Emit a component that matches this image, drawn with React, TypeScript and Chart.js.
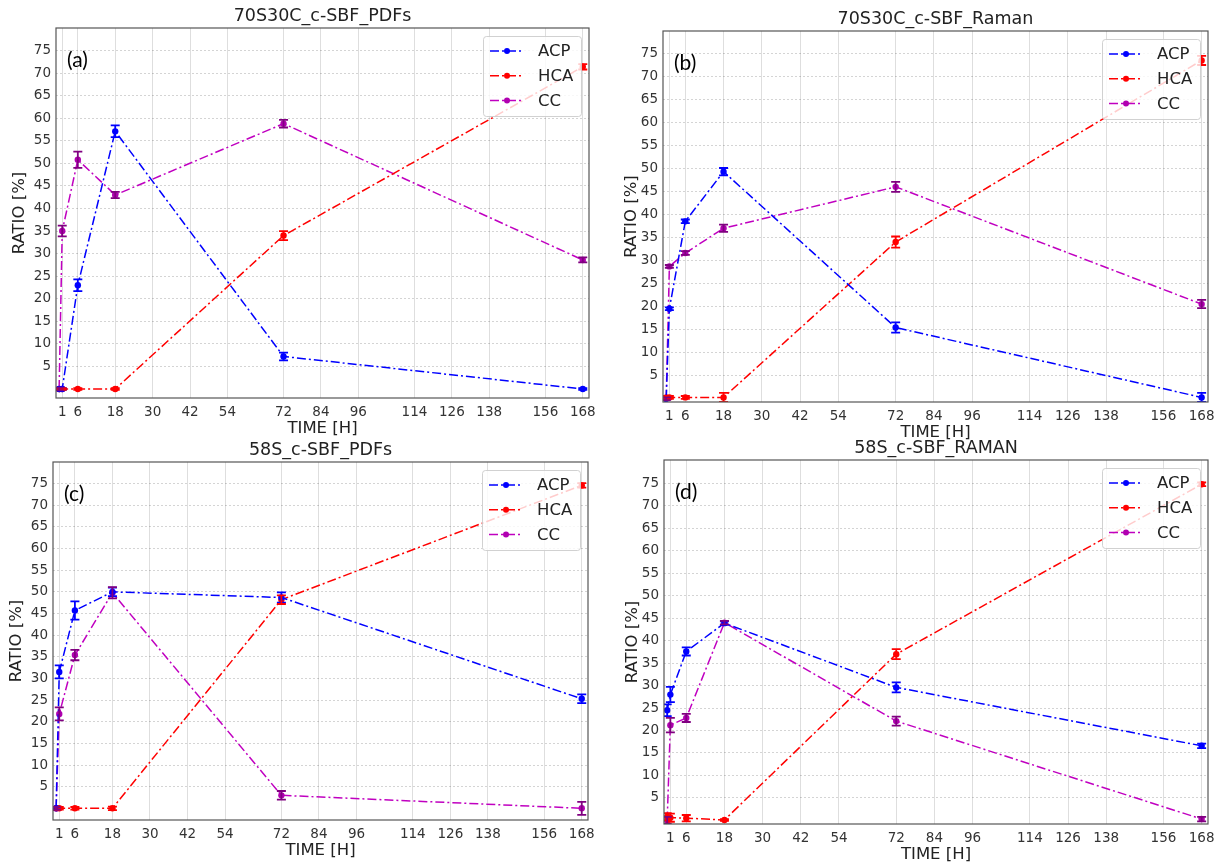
import React, { useEffect, useRef } from "react";
import { Chart, registerables } from "chart.js";

Chart.register(...registerables);

// Sampling times (hours) shared by every series
const TIMES = [0, 1, 6, 18, 72, 168];
const X_TICKS = [1, 6, 18, 30, 42, 54, 72, 84, 96, 114, 126, 138, 156, 168];
const Y_TICKS = [5, 10, 15, 20, 25, 30, 35, 40, 45, 50, 55, 60, 65, 70, 75];
const SERIES_NAMES = ["ACP", "HCA", "CC"];

// (a) 70S30C_c-SBF_PDFs
const A_ACP = [0, 0, 23.0, 57.1, 7.2, 0];
const A_ACP_ERR = [0.2, 0.2, 1.3, 1.3, 0.85, 0.2];
const A_HCA = [0, 0, 0, 0, 34.0, 71.4];
const A_HCA_ERR = [0.2, 0.2, 0.2, 0.2, 1.0, 0.6];
const A_CC = [0, 35.0, 50.8, 43.0, 58.8, 28.6];
const A_CC_ERR = [0.3, 1.2, 1.8, 0.7, 0.85, 0.55];

// (b) 70S30C_c-SBF_Raman
const B_ACP = [0, 19.6, 38.6, 49.4, 15.5, 0.3];
const B_ACP_ERR = [0.2, 0.3, 0.4, 0.8, 1.1, 1.0];
const B_HCA = [0.3, 0.3, 0.3, 0.3, 34.1, 73.6];
const B_HCA_ERR = [0.3, 0.3, 0.3, 1.0, 1.2, 1.0];
const B_CC = [0, 28.8, 31.7, 37.1, 46.1, 20.6];
const B_CC_ERR = [0.3, 0.3, 0.4, 0.8, 1.1, 0.9];

// (c) 58S_c-SBF_PDFs
const C_ACP = [0, 31.5, 45.7, 50.0, 48.7, 25.3];
const C_ACP_ERR = [0.3, 1.5, 2.1, 1.0, 1.2, 1.0];
const C_HCA = [0, 0, 0, 0, 48.2, 74.6];
const C_HCA_ERR = [0.3, 0.3, 0.3, 0.4, 1.0, 0.5];
const C_CC = [0, 21.8, 35.4, 49.8, 3.0, 0];
const C_CC_ERR = [0.3, 1.5, 1.2, 1.3, 1.0, 1.5];

// (d) 58S_c-SBF_RAMAN
const D_ACP = [24.5, 28.0, 37.6, 43.9, 29.6, 16.6];
const D_ACP_ERR = [1.3, 1.7, 0.9, 0.4, 1.1, 0.5];
const D_HCA = [0.8, 0.6, 0.5, 0.1, 37.0, 74.8];
const D_HCA_ERR = [0.8, 0.9, 0.7, 0.2, 1.1, 0.4];
const D_CC = [0, 21.2, 22.8, 44.0, 22.1, 0.3];
const D_CC_ERR = [0.8, 1.6, 0.9, 0.4, 1.0, 0.5];

const FONT = '"DejaVu Sans", "Liberation Sans", sans-serif';
const TAG_FONT = 'Lato, "Open Sans", sans-serif';

const STYLES = [
  { line: "#0000ff", marker: "#0000ff", err: "#0000ff" },
  { line: "#ff0000", marker: "#ff0000", err: "#ff0000" },
  { line: "#c000c0", marker: "#b000b0", err: "#800080" },
];
const DASH = [9, 3, 2, 3];

type PanelCfg = {
  title: string;
  tag: string;
  values: number[][];
  errors: number[][];
  yMin: number;
  yMax: number;
  box: { l: number; t: number; r: number; b: number };
  yLabelOffset: number;
};

const PANELS: PanelCfg[] = [
  {
    title: "70S30C_c-SBF_PDFs",
    tag: "(a)",
    values: [A_ACP, A_HCA, A_CC],
    errors: [A_ACP_ERR, A_HCA_ERR, A_CC_ERR],
    yMin: -2,
    yMax: 80,
    box: { l: 56, t: 28, r: 589, b: 398 },
    yLabelOffset: 36,
  },
  {
    title: "70S30C_c-SBF_Raman",
    tag: "(b)",
    values: [B_ACP, B_HCA, B_CC],
    errors: [B_ACP_ERR, B_HCA_ERR, B_CC_ERR],
    yMin: -0.7,
    yMax: 80,
    box: { l: 663, t: 31, r: 1208, b: 402 },
    yLabelOffset: 31,
  },
  {
    title: "58S_c-SBF_PDFs",
    tag: "(c)",
    values: [C_ACP, C_HCA, C_CC],
    errors: [C_ACP_ERR, C_HCA_ERR, C_CC_ERR],
    yMin: -2.7,
    yMax: 80,
    box: { l: 53, t: 462, r: 588, b: 820 },
    yLabelOffset: 36,
  },
  {
    title: "58S_c-SBF_RAMAN",
    tag: "(d)",
    values: [D_ACP, D_HCA, D_CC],
    errors: [D_ACP_ERR, D_HCA_ERR, D_CC_ERR],
    yMin: -0.8,
    yMax: 80.2,
    box: { l: 664, t: 460, r: 1208, b: 824 },
    yLabelOffset: 31,
  },
];

const Y_AXIS_W = 50;
const X_AXIS_H = 42;
const PAD_TOP = 28;
const PAD_RIGHT = 6;

function makeDecor(cfg: PanelCfg) {
  return {
    id: "decor",
    afterDatasetsDraw(chart: any) {
      const { ctx, chartArea: ca, scales } = chart;
      const xs = scales.x;
      const ys = scales.y;
      ctx.save();
      ctx.beginPath();
      ctx.rect(ca.left, ca.top, ca.right - ca.left, ca.bottom - ca.top);
      ctx.clip();
      // error bars with caps
      cfg.values.forEach((vals, si) => {
        const errs = cfg.errors[si];
        ctx.strokeStyle = STYLES[si].err;
        ctx.lineWidth = 1.8;
        vals.forEach((v, i) => {
          const e = errs[i];
          const x = xs.getPixelForValue(TIMES[i]);
          const y1 = ys.getPixelForValue(v + e);
          const y2 = ys.getPixelForValue(v - e);
          ctx.beginPath();
          ctx.moveTo(x, y1);
          ctx.lineTo(x, y2);
          ctx.moveTo(x - 4.5, y1);
          ctx.lineTo(x + 4.5, y1);
          ctx.moveTo(x - 4.5, y2);
          ctx.lineTo(x + 4.5, y2);
          ctx.stroke();
        });
      });
      ctx.restore();

      // legend box in the upper right corner
      const lw = 98;
      const lh = 80;
      const lx = ca.right - 8 - lw;
      const ly = ca.top + 8;
      ctx.save();
      ctx.fillStyle = "rgba(255,255,255,0.8)";
      ctx.strokeStyle = "rgba(204,204,204,0.9)";
      ctx.lineWidth = 1;
      ctx.beginPath();
      (ctx as any).roundRect(lx + 0.5, ly + 0.5, lw, lh, 3);
      ctx.fill();
      ctx.stroke();
      SERIES_NAMES.forEach((name, si) => {
        const ry = ly + 15 + si * 24.7;
        ctx.strokeStyle = STYLES[si].line;
        ctx.lineWidth = 1.5;
        ctx.setLineDash(DASH);
        ctx.beginPath();
        ctx.moveTo(lx + 7, ry);
        ctx.lineTo(lx + 41, ry);
        ctx.stroke();
        ctx.setLineDash([]);
        ctx.fillStyle = STYLES[si].marker;
        ctx.beginPath();
        ctx.arc(lx + 24, ry, 3, 0, Math.PI * 2);
        ctx.fill();
        ctx.fillStyle = "#222";
        ctx.font = `16.5px ${FONT}`;
        ctx.textAlign = "left";
        ctx.textBaseline = "middle";
        ctx.fillText(name, lx + 55, ry + 1);
      });
      ctx.restore();
    },
    afterDraw(chart: any) {
      const { ctx, chartArea: ca } = chart;
      ctx.save();
      // frame
      ctx.strokeStyle = "#555";
      ctx.lineWidth = 1.2;
      ctx.strokeRect(ca.left, ca.top, ca.right - ca.left, ca.bottom - ca.top);
      ctx.fillStyle = "#222";
      ctx.textAlign = "center";
      ctx.textBaseline = "middle";
      // title
      ctx.font = `17.5px ${FONT}`;
      ctx.fillText(cfg.title, (ca.left + ca.right) / 2, ca.top - 12);
      // axis titles
      ctx.font = `16.5px ${FONT}`;
      ctx.fillText("TIME [H]", (ca.left + ca.right) / 2, ca.bottom + 31);
      ctx.save();
      ctx.translate(ca.left - cfg.yLabelOffset, (ca.top + ca.bottom) / 2);
      ctx.rotate(-Math.PI / 2);
      ctx.fillText("RATIO [%]", 0, 0);
      ctx.restore();
      // panel tag
      ctx.font = `21px ${TAG_FONT}`;
      ctx.textAlign = "left";
      ctx.fillStyle = "#000";
      ctx.fillText(cfg.tag, ca.left + 11, ca.top + 32);
      ctx.restore();
    },
  };
}

function buildConfig(cfg: PanelCfg): any {
  const datasets = cfg.values.map((vals, si) => ({
    label: SERIES_NAMES[si],
    data: TIMES.map((t, i) => ({ x: t, y: vals[i] })),
    borderColor: STYLES[si].line,
    backgroundColor: STYLES[si].marker,
    pointBackgroundColor: STYLES[si].marker,
    pointBorderWidth: 0,
    pointRadius: 3.2,
    borderWidth: 1.5,
    borderDash: DASH,
    tension: 0,
    fill: false,
  }));
  return {
    type: "line",
    data: { datasets },
    options: {
      animation: false,
      responsive: false,
      maintainAspectRatio: false,
      layout: {
        autoPadding: false,
        padding: { left: 0, right: PAD_RIGHT, top: PAD_TOP, bottom: 0 },
      },
      plugins: {
        legend: { display: false },
        title: { display: false },
        tooltip: { enabled: false },
      },
      scales: {
        x: {
          type: "linear",
          min: -1,
          max: 170,
          afterBuildTicks: (s: any) => {
            s.ticks = X_TICKS.map((v) => ({ value: v }));
          },
          afterFit: (s: any) => {
            s.height = X_AXIS_H;
            s.paddingLeft = 0;
            s.paddingRight = 0;
          },
          grid: { color: "rgba(0,0,0,0.13)", lineWidth: 1, drawTicks: false },
          border: { display: false },
          ticks: {
            font: { family: FONT, size: 13.5 },
            color: "#333",
            padding: 6,
            maxRotation: 0,
            autoSkip: false,
          },
        },
        y: {
          type: "linear",
          min: cfg.yMin,
          max: cfg.yMax,
          afterBuildTicks: (s: any) => {
            s.ticks = Y_TICKS.map((v) => ({ value: v }));
          },
          afterFit: (s: any) => {
            s.width = Y_AXIS_W;
            s.paddingTop = 0;
            s.paddingBottom = 0;
          },
          grid: { color: "rgba(0,0,0,0.17)", lineWidth: 1, drawTicks: false },
          border: { display: false, dash: [2, 2] },
          ticks: {
            font: { family: FONT, size: 13.5 },
            color: "#333",
            padding: 5,
          },
        },
      },
    },
    plugins: [makeDecor(cfg)],
  };
}

function Panel({ cfg }: { cfg: PanelCfg }) {
  const ref = useRef<HTMLCanvasElement | null>(null);
  const { l, t, r, b } = cfg.box;
  const w = r - l + Y_AXIS_W + PAD_RIGHT;
  const h = b - t + PAD_TOP + X_AXIS_H;
  useEffect(() => {
    if (!ref.current) return;
    const chart = new Chart(ref.current, buildConfig(cfg));
    return () => chart.destroy();
  }, [cfg]);
  return (
    <canvas
      ref={ref}
      width={w}
      height={h}
      style={{
        position: "absolute",
        left: l - Y_AXIS_W,
        top: t - PAD_TOP,
        width: w,
        height: h,
      }}
    />
  );
}

export default function App() {
  return (
    <div style={{ position: "absolute", left: 0, top: 0, width: 1216, height: 865, background: "#fff" }}>
      {PANELS.map((p) => (
        <Panel key={p.tag} cfg={p} />
      ))}
    </div>
  );
}
